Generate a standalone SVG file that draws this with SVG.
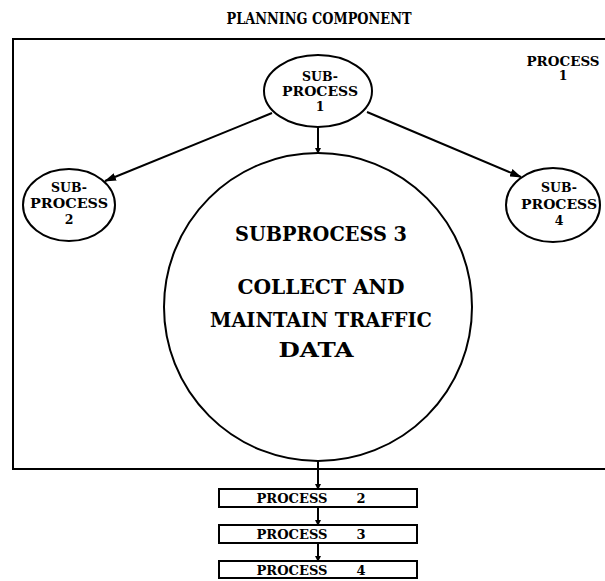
<svg xmlns="http://www.w3.org/2000/svg" width="605" height="581" viewBox="0 0 605 581">
<defs>
<marker id="ah" markerWidth="12" markerHeight="8" refX="11" refY="4" orient="auto" markerUnits="userSpaceOnUse">
<path d="M0,0 L12,4 L0,8 Z" fill="#000"/>
</marker>
<marker id="sm" markerWidth="6" markerHeight="6" refX="5" refY="3" orient="auto" markerUnits="userSpaceOnUse">
<path d="M0,0 L6,3 L0,6 Z" fill="#000"/>
</marker>
<style>
.t{font-family:"DejaVu Serif","Liberation Serif",serif;font-weight:bold;fill:#000;text-anchor:middle}
.s{font-size:12.5px}
.p{font-size:13px}
.b{font-size:20px}
.n{fill:#fff;stroke:#000;stroke-width:2}
.c{stroke:#000;stroke-width:2;fill:none}
</style>
</defs>
<rect width="605" height="581" fill="#fff"/>
<text class="t" x="319" y="24" font-size="17" textLength="185" lengthAdjust="spacingAndGlyphs">PLANNING COMPONENT</text>
<g id="process1">
<path class="c" d="M605,39 H13 V469 H605"/>
<text class="t s" x="563" y="66" textLength="73" lengthAdjust="spacingAndGlyphs">PROCESS</text>
<text class="t s" x="563" y="80">1</text>
</g>
<g id="connectors">
<line class="c" x1="272" y1="113" x2="105" y2="181" marker-end="url(#ah)"/>
<line class="c" x1="367" y1="112" x2="521" y2="177" marker-end="url(#ah)"/>
<line class="c" x1="318" y1="127" x2="318" y2="153" marker-end="url(#sm)"/>
<line class="c" x1="318" y1="461" x2="318" y2="489" marker-end="url(#sm)"/>
<line class="c" x1="318" y1="507" x2="318" y2="525" marker-end="url(#sm)"/>
<line class="c" x1="318" y1="543" x2="318" y2="561" marker-end="url(#sm)"/>
</g>
<g id="sub1">
<ellipse class="n" cx="318" cy="91" rx="54" ry="36"/>
<text class="t s" x="320" y="81">SUB-</text>
<text class="t s" x="320" y="96" textLength="76" lengthAdjust="spacingAndGlyphs">PROCESS</text>
<text class="t s" x="320" y="111">1</text>
</g>
<g id="sub2">
<ellipse class="n" cx="69" cy="205" rx="46" ry="36"/>
<text class="t s" x="69" y="192">SUB-</text>
<text class="t s" x="69" y="208" textLength="78" lengthAdjust="spacingAndGlyphs">PROCESS</text>
<text class="t s" x="69" y="224">2</text>
</g>
<g id="sub4">
<ellipse class="n" cx="553" cy="205" rx="47" ry="37"/>
<text class="t s" x="559" y="192">SUB-</text>
<text class="t s" x="559" y="209" textLength="76" lengthAdjust="spacingAndGlyphs">PROCESS</text>
<text class="t s" x="559" y="225">4</text>
</g>
<g id="sub3">
<circle class="n" cx="318" cy="307" r="154"/>
<text class="t b" x="321" y="241" textLength="172" lengthAdjust="spacingAndGlyphs">SUBPROCESS 3</text>
<text class="t b" x="321" y="294" textLength="167" lengthAdjust="spacingAndGlyphs">COLLECT AND</text>
<text class="t b" x="321" y="327" textLength="222" lengthAdjust="spacingAndGlyphs">MAINTAIN TRAFFIC</text>
<text class="t b" x="316" y="357" textLength="75" lengthAdjust="spacingAndGlyphs">DATA</text>
</g>
<g id="process2">
<rect class="n" x="219" y="489" width="198" height="18"/>
<text class="t p" x="292" y="503" textLength="71" lengthAdjust="spacingAndGlyphs">PROCESS</text>
<text class="t p" x="361" y="503">2</text>
</g>
<g id="process3">
<rect class="n" x="219" y="525" width="198" height="18"/>
<text class="t p" x="292" y="539" textLength="71" lengthAdjust="spacingAndGlyphs">PROCESS</text>
<text class="t p" x="361" y="539">3</text>
</g>
<g id="process4">
<rect class="n" x="219" y="561" width="198" height="17"/>
<text class="t p" x="292" y="575" textLength="71" lengthAdjust="spacingAndGlyphs">PROCESS</text>
<text class="t p" x="361" y="575">4</text>
</g>
</svg>
